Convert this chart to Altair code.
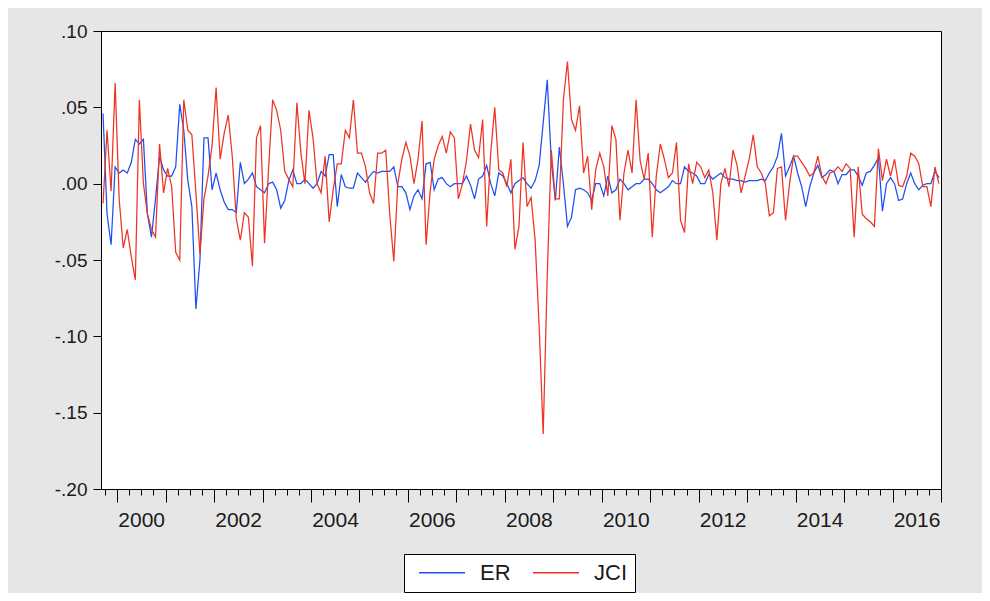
import altair as alt
import pandas as pd

# Monthly observations, first month of the sample
start_month = "1999-09"

ER = [0.046, -0.020, -0.040, 0.011, 0.007, 0.009, 0.007, 0.014, 0.029, 0.026,
      0.029, -0.020, -0.035, -0.010, 0.018, 0.009, 0.005, 0.005, 0.011, 0.052,
      0.035, 0.002, -0.015, -0.082, -0.050, 0.030, 0.030, -0.004, 0.007, -0.004,
      -0.012, -0.017, -0.017, -0.019, 0.014, 0.000, 0.003, 0.007, -0.002, -0.004,
      -0.006, 0.000, 0.001, -0.004, -0.016, -0.011, 0.002, 0.009, 0.000, 0.000,
      0.003, 0.000, -0.003, 0.000, 0.008, 0.005, 0.019, 0.019, -0.015, 0.006,
      -0.002, -0.003, -0.003, 0.007, 0.004, 0.001, 0.005, 0.008, 0.007, 0.008,
      0.008, 0.008, 0.011, -0.002, -0.002, -0.006, -0.017, -0.008, -0.004, -0.010,
      0.013, 0.014, -0.004, 0.003, 0.004, 0.000, -0.002, 0.000, 0.000, 0.000,
      0.005, -0.001, -0.010, 0.003, 0.005, 0.012, 0.000, -0.008, 0.007, 0.005,
      0.000, -0.006, 0.000, 0.002, 0.004, 0.000, -0.003, 0.002, 0.012, 0.040,
      0.068, 0.015, -0.011, 0.024, 0.000, -0.028, -0.022, -0.004, -0.003, -0.004,
      -0.006, -0.011, 0.000, 0.000, -0.008, 0.005, -0.006, -0.004, 0.003, 0.000,
      -0.004, -0.002, 0.000, 0.000, 0.003, 0.003, 0.000, -0.004, -0.006, -0.004,
      -0.002, 0.002, 0.000, 0.000, 0.011, 0.008, 0.007, 0.005, 0.000, 0.000,
      0.006, 0.003, 0.005, 0.007, 0.004, 0.003, 0.003, 0.002, 0.002, 0.001,
      0.002, 0.002, 0.002, 0.003, 0.002, 0.007, 0.011, 0.018, 0.033, 0.005,
      0.011, 0.018, 0.007, -0.002, -0.015, -0.002, 0.007, 0.012, 0.004, 0.006,
      0.009, 0.008, 0.000, 0.006, 0.006, 0.009, 0.009, 0.005, -0.001, 0.007,
      0.008, 0.012, 0.017, -0.018, 0.000, 0.004, 0.000, -0.011, -0.010, 0.000,
      0.007, 0.000, -0.004, -0.001, 0.000, 0.000, 0.008, 0.004]

JCI = [-0.013, 0.035, -0.005, 0.066, -0.010, -0.042, -0.030, -0.048, -0.063, 0.055,
       0.000, -0.020, -0.030, -0.035, 0.026, -0.006, 0.010, -0.002, -0.045, -0.050,
       0.055, 0.035, 0.032, -0.006, -0.046, -0.010, 0.005, 0.025, 0.063, 0.016,
       0.033, 0.045, 0.018, -0.023, -0.037, -0.019, -0.022, -0.054, 0.030, 0.038,
       -0.039, 0.010, 0.055, 0.048, 0.035, 0.008, 0.003, -0.002, 0.053, 0.020,
       0.000, 0.048, 0.030, 0.000, -0.006, 0.018, -0.025, -0.004, 0.013, 0.013,
       0.035, 0.030, 0.055, 0.020, 0.020, 0.011, -0.006, -0.013, 0.020, 0.020,
       0.022, -0.020, -0.051, 0.000, 0.016, 0.027, 0.018, 0.000, 0.016, 0.041,
       -0.040, -0.005, 0.016, 0.025, 0.031, 0.020, 0.034, 0.030, -0.010, 0.000,
       0.015, 0.039, 0.022, 0.017, 0.042, -0.028, 0.020, 0.050, 0.009, 0.007,
       -0.002, 0.016, -0.043, -0.028, 0.027, -0.015, -0.009, -0.037, -0.094, -0.164,
       -0.060, 0.022, -0.010, -0.010, 0.055, 0.080, 0.042, 0.035, 0.051, 0.007,
       0.018, -0.017, 0.009, 0.020, 0.011, -0.008, 0.038, 0.029, -0.024, 0.007,
       0.022, 0.007, 0.055, 0.015, 0.003, 0.020, -0.035, 0.005, 0.026, 0.016,
       0.004, 0.007, 0.027, -0.024, -0.032, 0.013, 0.000, 0.014, 0.011, 0.004,
       0.009, -0.006, -0.037, 0.000, 0.010, -0.002, 0.022, 0.012, -0.006, 0.005,
       0.016, 0.032, 0.011, 0.007, 0.000, -0.021, -0.019, 0.010, 0.011, -0.024,
       0.000, 0.018, 0.018, 0.014, 0.010, 0.005, 0.007, 0.018, 0.005, 0.000,
       0.007, 0.008, 0.011, 0.008, 0.013, 0.010, -0.035, 0.011, -0.020, -0.023,
       -0.025, -0.028, 0.023, 0.002, 0.016, 0.005, 0.016, -0.001, -0.002, 0.005,
       0.020, 0.018, 0.013, -0.002, -0.002, -0.015, 0.011, 0.000]

series_names = ["ER", "JCI"]
series_colors = ["#1f4ff0", "#ee3322"]
y_ticks = [-0.20, -0.15, -0.10, -0.05, 0.00, 0.05, 0.10]
x_domain = [1999 + 8 / 12, 2017.0]
quarter_ticks = [1999.75 + 0.25 * k for k in range(70)]

months = pd.period_range(start_month, periods=len(ER), freq="M")
t = [m.year + (m.month - 0.5) / 12 for m in months]
df = pd.DataFrame({
    "t": t + t,
    "series": ["ER"] * len(ER) + ["JCI"] * len(JCI),
    "value": ER + JCI,
})

FONT = "Liberation Sans"

chart = alt.Chart(df).mark_line(strokeWidth=1.25, clip=True).encode(
    x=alt.X(
        "t:Q",
        scale=alt.Scale(domain=x_domain, nice=False, zero=False),
        axis=alt.Axis(
            title=None,
            values=quarter_ticks,
            tickSize={"condition": {"test": "datum.value % 1 === 0", "value": 13}, "value": 6},
            labelExpr="datum.value % 2 === 0 ? format(datum.value, 'd') : ''",
            labelOffset=24,
            labelPadding=7,
            labelFontSize=21,
            labelOverlap=False,
            labelBound=False,
            labelFlush=False,
            grid=False,
        ),
    ),
    y=alt.Y(
        "value:Q",
        scale=alt.Scale(domain=[-0.2, 0.1], nice=False, zero=False),
        axis=alt.Axis(
            title=None,
            values=y_ticks,
            tickSize=8,
            labelPadding=6,
            labelFontSize=19,
            labelExpr="replace(replace(format(datum.value, '.2f'), '0.', '.'), '\u2212', '-')",
            grid=False,
        ),
    ),
    color=alt.Color(
        "series:N",
        scale=alt.Scale(domain=series_names, range=series_colors),
        legend=alt.Legend(
            title=None,
            orient="none",
            legendX=303,
            legendY=523,
            direction="horizontal",
            fillColor="white",
            strokeColor="black",
            padding=8,
            symbolType="stroke",
            symbolSize=2116,
            symbolStrokeWidth=1.6,
            symbolOffset=6,
            clipHeight=21,
            labelOffset=14,
            columnPadding=15,
            labelFontSize=22,
            labelFont=FONT,
            labelColor="#1a1a1a",
        ),
    ),
).properties(
    width=840,
    height=458,
    autosize=alt.AutoSizeParams(type="none"),
    padding={"left": 93, "top": 23, "right": 41, "bottom": 104},
    background="#e6e6e6",
).configure_view(
    stroke="black",
    strokeWidth=1,
    fill="white",
).configure_axis(
    domainColor="black",
    tickColor="black",
    labelColor="#1a1a1a",
    labelFont=FONT,
)

chart.save("out.html", embed_options={"renderer": "svg", "actions": False})
